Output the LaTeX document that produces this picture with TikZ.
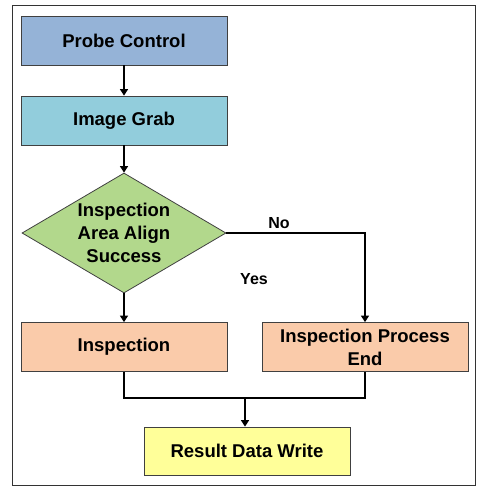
\documentclass[tikz,border=0pt]{standalone}
\usepackage{fontspec}
\setmainfont{Liberation Sans}
\usepackage{tikz}
\usepackage{xcolor}
\usetikzlibrary{arrows.meta, shapes.geometric, positioning}

\definecolor{probeblue}{HTML}{95B3D7}
\definecolor{grabcyan}{HTML}{92CDDC}
\definecolor{aligngreen}{HTML}{B2D88C}
\definecolor{insppeach}{HTML}{FACBAA}
\definecolor{writeyellow}{HTML}{FFFF99}

\begin{document}
\begin{tikzpicture}[x=1pt, y=-1pt, node distance=80pt, on grid,
    font=\fontsize{18.5}{23}\selectfont\bfseries,
    box/.style={rectangle, draw=black!75, line width=0.8pt, minimum width=206pt, minimum height=49pt, inner sep=0pt, align=center},
    decision/.style={diamond, draw=black!75, line width=0.8pt, minimum width=204pt, minimum height=120pt, inner sep=0pt, aspect=1.7, align=center},
    flow/.style={line width=1.6pt, -{Triangle[width=8pt,length=6.5pt]}},
    branch/.style={font=\fontsize{16}{19}\selectfont\bfseries}]

    \useasboundingbox (0,0) rectangle (481,487);
    \draw[black!80, line width=0.8pt] (12,5) rectangle (475,485);

    \node[box, fill=probeblue] (probe) at (124,40.5) {Probe Control};
    \node[box, fill=grabcyan, below=of probe] (grab) {Image Grab};
    \node[decision, fill=aligngreen, below=112.5pt of grab] (align) {Inspection\\Area Align\\Success};
    \node[box, fill=insppeach, below=114pt of align] (insp) {Inspection};
    \node[box, fill=insppeach, right=241pt of insp] (stop) {Inspection Process\\End};
    \node[box, fill=writeyellow, minimum height=48pt] (write) at (247,451) {Result Data Write};
    \node[branch] (yes) at (254,279) {Yes};
    \coordinate (join) at (245,398);

    \draw[flow] (probe) -- (grab);
    \draw[flow] (grab) -- (align);
    \draw[flow] (align) -- (insp);
    \draw[flow] (align.east) -| node[branch, pos=0.19, above] (no) {No} (stop.north);
    \draw[line width=1.6pt] (insp.south) |- (join) -| (stop.south);
    \draw[flow] (join) -- (join |- write.north);

\end{tikzpicture}
\end{document}
